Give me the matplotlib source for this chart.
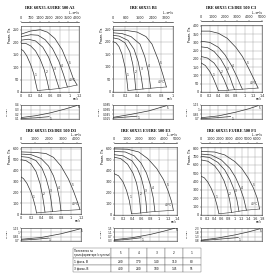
import matplotlib.pyplot as plt
import numpy as np

plt.rcParams['font.family'] = ['DejaVu Sans']
plt.rcParams['axes.linewidth'] = 0.4

titles = [
    "IRE 60X35 A3/IRE 500 A3",
    "IRE 60X35 B1",
    "IRE 60X35 C3/IRE 500 C3",
    "IRE 60X35 D3/IRE 500 D3",
    "IRE 60X35 E3/IRE 500 E3",
    "IRE 60X35 F3/IRE 500 F3",
]

# fan curves: flow q (m3/s) and total pressure (Pa), transformer steps 1..5
a3_q = [[0, 0.05, 0.12, 0.2, 0.26, 0.3, 0.34],
        [0, 0.1, 0.2, 0.3, 0.4, 0.48, 0.54, 0.58],
        [0, 0.15, 0.3, 0.45, 0.57, 0.66, 0.73, 0.79],
        [0, 0.2, 0.35, 0.5, 0.65, 0.78, 0.88, 0.96],
        [0, 0.2, 0.4, 0.55, 0.7, 0.85, 0.98, 1.08, 1.16]]
a3_p = [[172, 165, 145, 110, 75, 40, 6],
        [195, 195, 185, 165, 130, 90, 45, 10],
        [208, 212, 205, 180, 140, 95, 50, 14],
        [222, 230, 228, 210, 175, 125, 70, 20],
        [232, 245, 250, 240, 215, 170, 110, 55, 28]]

b1_q = [[0, 0.05, 0.1, 0.15, 0.2, 0.23, 0.25],
        [0, 0.1, 0.2, 0.28, 0.33, 0.36, 0.38],
        [0, 0.1, 0.25, 0.35, 0.42, 0.47, 0.5],
        [0, 0.15, 0.3, 0.45, 0.53, 0.59, 0.63],
        [0, 0.2, 0.4, 0.55, 0.65, 0.75, 0.83, 0.89]]
b1_p = [[200, 195, 180, 150, 100, 50, 6],
        [215, 210, 195, 160, 110, 60, 9],
        [225, 222, 205, 170, 120, 60, 12],
        [235, 232, 220, 190, 140, 80, 15],
        [245, 245, 238, 220, 190, 130, 70, 20]]

c3_q = [[0, 0.1, 0.2, 0.28, 0.35, 0.4],
        [0, 0.15, 0.3, 0.42, 0.52, 0.59, 0.63],
        [0, 0.15, 0.3, 0.45, 0.57, 0.67, 0.73, 0.77],
        [0, 0.2, 0.4, 0.55, 0.7, 0.82, 0.9, 0.95],
        [0, 0.2, 0.4, 0.6, 0.8, 0.95, 1.1, 1.22, 1.31]]
c3_p = [[176, 160, 125, 85, 40, 8],
        [215, 205, 175, 130, 80, 35, 11],
        [273, 268, 245, 200, 145, 85, 40, 14],
        [307, 300, 270, 225, 160, 95, 45, 17],
        [368, 368, 355, 325, 270, 215, 140, 75, 24]]

d3_q = [[0, 0.05, 0.12, 0.2, 0.25, 0.29, 0.31],
        [0, 0.1, 0.2, 0.3, 0.38, 0.43, 0.46, 0.48],
        [0, 0.15, 0.3, 0.42, 0.5, 0.56, 0.6, 0.63],
        [0, 0.2, 0.4, 0.55, 0.65, 0.72, 0.77, 0.8],
        [0, 0.3, 0.5, 0.65, 0.8, 0.95, 1.05, 1.13, 1.18]]
d3_p = [[340, 325, 280, 200, 130, 60, 10],
        [498, 490, 460, 390, 280, 170, 80, 17],
        [527, 520, 490, 420, 330, 230, 130, 22],
        [550, 545, 510, 440, 350, 250, 140, 30],
        [570, 565, 555, 520, 440, 320, 210, 110, 40]]

e3_q = [[0, 0.1, 0.2, 0.28, 0.34, 0.37, 0.39],
        [0, 0.15, 0.3, 0.42, 0.5, 0.55, 0.58, 0.59],
        [0, 0.2, 0.4, 0.52, 0.61, 0.67, 0.71, 0.73],
        [0, 0.25, 0.45, 0.6, 0.72, 0.81, 0.87, 0.91],
        [0, 0.3, 0.55, 0.75, 0.95, 1.1, 1.2, 1.28, 1.32]]
e3_p = [[374, 355, 300, 220, 130, 60, 12],
        [523, 510, 460, 380, 290, 190, 90, 18],
        [546, 535, 490, 420, 330, 230, 120, 25],
        [575, 570, 535, 470, 380, 270, 160, 32],
        [598, 595, 570, 510, 420, 320, 220, 120, 42]]

f3_q = [[0, 0.1, 0.2, 0.3, 0.4, 0.47, 0.53],
        [0, 0.2, 0.4, 0.55, 0.68, 0.78, 0.85, 0.9],
        [0, 0.25, 0.5, 0.7, 0.85, 0.97, 1.06, 1.12],
        [0, 0.3, 0.6, 0.85, 1.02, 1.15, 1.26, 1.34],
        [0, 0.4, 0.7, 1.0, 1.2, 1.4, 1.55, 1.66, 1.73]]
f3_p = [[465, 445, 395, 320, 220, 120, 15],
        [660, 645, 590, 510, 410, 290, 170, 30],
        [703, 690, 630, 540, 430, 310, 180, 45],
        [730, 720, 660, 560, 450, 330, 200, 58],
        [762, 755, 720, 640, 560, 440, 320, 200, 72]]

# power input (kW), step 5 and step 1
a3_nq = [[0, 0.3, 0.6, 0.9, 1.16], [0, 0.3, 0.58]]
a3_n = [[0.13, 0.17, 0.23, 0.31, 0.39], [0.11, 0.125, 0.15]]
b1_nq = [[0, 0.3, 0.6, 0.89], [0, 0.2, 0.4]]
b1_n = [[0.032, 0.045, 0.06, 0.082], [0.029, 0.033, 0.037]]
c3_nq = [[0, 0.4, 0.8, 1.1, 1.31], [0, 0.35, 0.68]]
c3_n = [[0.74, 0.8, 0.92, 1.03, 1.13], [0.71, 0.74, 0.78]]
d3_nq = [[0, 0.4, 0.8, 1.05, 1.18], [0, 0.3, 0.55]]
d3_n = [[0.76, 0.82, 0.95, 1.06, 1.12], [0.73, 0.76, 0.8]]
e3_nq = [[0, 0.4, 0.8, 1.1, 1.35], [0, 0.3, 0.6]]
e3_n = [[0.42, 0.6, 0.9, 1.2, 1.48], [0.35, 0.45, 0.6]]
f3_nq = [[0, 0.5, 1.0, 1.4, 1.73], [0, 0.5, 1.1]]
f3_n = [[0.9, 1.15, 1.5, 1.85, 2.2], [0.85, 1.0, 1.2]]

x_max = [1.2, 1.0, 1.4, 1.2, 1.4, 1.8]
p_ticks = [np.arange(0, 251, 50), np.arange(0, 251, 50), np.arange(0, 401, 50),
           np.arange(0, 601, 100), np.arange(0, 601, 100), np.arange(0, 801, 100)]
p_top = [265, 262, 405, 615, 615, 815]
l_ticks = [[0, 700, 1400, 2100, 2800, 3500, 4200],
           [0, 800, 1600, 2400, 3200],
           [0, 1000, 2000, 3000, 4000, 5000],
           [0, 1000, 2000, 3000, 4000],
           [0, 1000, 2000, 3000, 4000, 5000],
           [0, 1000, 2000, 3000, 4000, 5000, 6000]]
n_ticks = [[0.1, 0.2, 0.3, 0.4],
           [0.025, 0.045, 0.065, 0.085],
           [0.7, 0.85, 1.0, 1.15],
           [0.7, 0.85, 1.0, 1.15],
           [0.3, 0.7, 1.1, 1.5],
           [0.8, 1.3, 1.8, 2.3]]

# transformer table
steps = ["5", "4", "3", "2", "1"]
volt_1ph = ["230", "170", "140", "110", "80"]
volt_3ph = ["400", "280", "180", "145", "95"]

curves_q = [a3_q, b1_q, c3_q, d3_q, e3_q, f3_q]
curves_p = [a3_p, b1_p, c3_p, d3_p, e3_p, f3_p]
power_q = [a3_nq, b1_nq, c3_nq, d3_nq, e3_nq, f3_nq]
power_n = [a3_n, b1_n, c3_n, d3_n, e3_n, f3_n]

# panel boxes in pixels: (left, right, top, bottom) of main and power axes
main_px = [(21, 79, 26, 92), (113, 173, 26, 92), (201, 262, 25, 92),
           (21, 81, 147, 214), (114, 177, 147, 215), (201, 262, 147, 215)]
pow_px = [(21, 79, 105, 119), (113, 173, 105, 119), (201, 262, 105, 119),
          (21, 81, 228, 241), (114, 177, 228, 241), (201, 262, 228, 241)]
title_y = [8, 8, 8, 131, 131, 131]

W = H = 280.0
fig = plt.figure(figsize=(2.8, 2.8), dpi=100)
fs = 2.4
line_c = '#333333'
grid_c = '#9a9a9a'


def box(px):
    l, r, t, b = px
    return [l / W, 1 - b / H, (r - l) / W, (b - t) / H]


def style(ax):
    ax.tick_params(labelsize=fs, length=0.8, width=0.3, pad=0.8, colors='#222222')
    for s in ax.spines.values():
        s.set_linewidth(0.4)
        s.set_color('#333333')
    ax.grid(True, color=grid_c, lw=0.3)
    ax.set_axisbelow(True)


for i in range(6):
    l, r, t, b = main_px[i]
    ax = fig.add_axes(box(main_px[i]))
    style(ax)
    xt = np.round(np.arange(0, x_max[i] + 0.01, 0.2), 1)
    ax.set_xlim(0, x_max[i])
    ax.set_xticks(xt)
    ax.set_xticklabels([f"{v:g}" for v in xt])
    ax.set_ylim(0, p_top[i])
    ax.set_yticks(p_ticks[i])
    ends_q, ends_p = [], []
    for k, (q, p) in enumerate(zip(curves_q[i], curves_p[i])):
        ax.plot(q, p, color=line_c, lw=0.5)
        ends_q.append(q[-1])
        ends_p.append(p[-1])
        # step number near the lower part of the curve
        yl = (0.26 + 0.045 * k) * p_top[i]
        ql = np.interp(-yl, -np.array(p), q)
        ax.text(ql + 0.012 * x_max[i], yl, str(k + 1), fontsize=fs * 0.9,
                ha='left', va='center', color='#222222')
    ax.plot(ends_q, ends_p, color=line_c, lw=0.4)
    ax.text(ends_q[-1] - 0.02 * x_max[i], ends_p[-1] + 0.05 * p_top[i], "40°C",
            fontsize=fs * 0.85, ha='right', va='bottom', color='#222222')
    # upper scale in m3/h, drawn a few pixels above the frame
    sec = ax.secondary_xaxis(1 + 4.0 / (b - t),
                             functions=(lambda v: v * 3600, lambda v: v / 3600))
    sec.set_xticks(l_ticks[i])
    sec.tick_params(labelsize=fs, length=0.8, width=0.3, pad=0.4, colors='#222222')
    sec.spines['top'].set_linewidth(0.4)
    fig.text(r / W, 1 - (t - 10.5) / H, "L, м³/ч", fontsize=fs * 0.9,
             ha='right', va='bottom')
    fig.text(r / W, 1 - (b + 5) / H, "м³/с", fontsize=fs * 0.9,
             ha='right', va='top')
    fig.text((l - 11) / W, 1 - (t + 2) / H, "Pполн, Па", fontsize=fs * 0.9,
             rotation=90, ha='center', va='top')
    cx = (l + r) / 2 / W
    fig.text(cx, 1 - title_y[i] / H, titles[i], fontsize=3.2, fontweight='bold',
             family='Liberation Serif', ha='center', va='center')

    pl, pr, pt, pb = pow_px[i]
    axn = fig.add_axes(box(pow_px[i]))
    style(axn)
    axn.set_xlim(0, x_max[i])
    axn.set_xticks(xt)
    axn.set_xticklabels([])
    axn.set_ylim(n_ticks[i][0], n_ticks[i][-1])
    axn.set_yticks(n_ticks[i])
    axn.set_yticklabels([f"{v:g}" for v in n_ticks[i]])
    axn.tick_params(axis='x', length=0)
    axn.tick_params(axis='y', labelsize=fs * 0.85, pad=0.5)
    for lab, q, n in zip(["5", "1"], power_q[i], power_n[i]):
        axn.plot(q, n, color=line_c, lw=0.5)
        axn.text(q[-1] + 0.01 * x_max[i], n[-1], lab, fontsize=fs * 0.85,
                 ha='left', va='top')
    fig.text((pl - 13) / W, 1 - (pt + pb) / 2 / H, "N, кВт", fontsize=fs * 0.7,
             rotation=90, ha='center', va='center')

# transformer table
tax = fig.add_axes([73 / W, 1 - 272 / H, 128 / W, 24 / H])
tax.axis('off')
head = ["Положения на\nтрансформаторе (ступени)"] + steps
rows = [["1 фаза, В"] + volt_1ph, ["3 фазы, В"] + volt_3ph]
tbl = tax.table(cellText=rows, colLabels=head, cellLoc='center',
                colWidths=[0.3] + [0.14] * 5, bbox=[0, 0, 1, 1])
tbl.auto_set_font_size(False)
for (rr, cc), cell in tbl.get_celld().items():
    cell.set_linewidth(0.3)
    cell.set_edgecolor('#666666')
    cell.get_text().set_fontsize(2.1)
    cell.set_height(0.42 if rr == 0 else 0.29)
    if cc == 0:
        cell.get_text().set_ha('left')
        cell.set_text_props(ha='left')
        cell._loc = 'left'
        cell.PAD = 0.03
    if rr == 0 and cc == 0:
        cell.get_text().set_fontsize(1.8)

fig.savefig("out.png", dpi=100)
